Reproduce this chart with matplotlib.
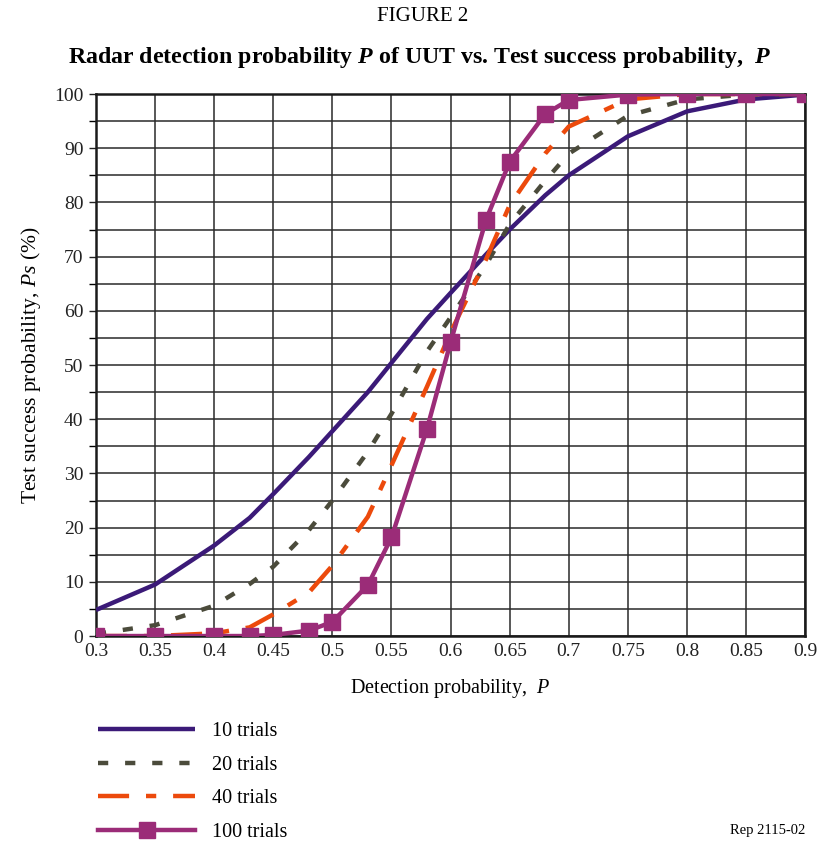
import numpy as np
import matplotlib.pyplot as plt

plt.rcParams['font.family'] = ['Liberation Serif', 'DejaVu Serif']
plt.rcParams['mathtext.fontset'] = 'custom'
plt.rcParams['mathtext.rm'] = 'Liberation Serif'
plt.rcParams['mathtext.it'] = 'Liberation Serif:italic'
plt.rcParams['mathtext.bf'] = 'Liberation Serif:bold'
plt.rcParams['mathtext.bfit'] = 'Liberation Serif:bold:italic'

# detection probability points
P = [0.3, 0.35, 0.4, 0.43, 0.45, 0.48, 0.5, 0.53, 0.55, 0.58,
     0.6, 0.63, 0.65, 0.68, 0.7, 0.75, 0.8, 0.85, 0.9]

# test success probability (%)
ps_10 = [4.8, 9.5, 16.7, 21.8, 26.2, 33.0, 37.8, 45.0, 50.4, 58.5,
         63.3, 70.4, 75.0, 81.3, 85.0, 92.2, 96.8, 99.0, 99.9]
ps_20 = [0.4, 2.0, 5.6, 9.6, 12.8, 19.5, 25.0, 34.0, 41.0, 52.5,
         58.8, 68.5, 76.0, 84.0, 89.0, 96.0, 99.0, 99.9, 100.0]
ps_40 = [0.0, 0.0, 0.5, 1.6, 4.0, 8.0, 13.0, 22.0, 31.5, 46.0,
         56.0, 69.5, 79.5, 89.0, 94.0, 99.0, 100.0, 100.0, 100.0]
ps_100 = [0.0, 0.0, 0.0, 0.0, 0.2, 1.0, 2.6, 9.4, 18.2, 38.2,
          54.2, 76.8, 87.5, 96.3, 98.9, 99.9, 100.0, 100.0, 100.0]

labels = ['10 trials', '20 trials', '40 trials', '100 trials']

fig = plt.figure(figsize=(8.2, 8.44), dpi=100)
ax = fig.add_axes([0.117, 0.2464, 0.865, 0.6422])

lw = 3.2
ax.plot(P, ps_10, color='#3b1a78', lw=lw, solid_capstyle='butt', label=labels[0], zorder=3)
ax.plot(P, ps_20, color='#4b4b3b', lw=lw, dashes=(2.3, 3.8), label=labels[1], zorder=4)
ax.plot(P, ps_40, color='#ec4a0c', lw=lw, dashes=(7.0, 3.8, 2.3, 3.8), label=labels[2], zorder=5)
ax.plot(P, ps_100, color='#9b2c78', lw=lw, marker='s', markersize=11, label=labels[3], zorder=6)

ax.set_xlim(0.3, 0.9)
ax.set_ylim(0, 100)
ax.set_xticks(np.arange(0.3, 0.901, 0.05))
ax.set_xticklabels(['0.3', '0.35', '0.4', '0.45', '0.5', '0.55', '0.6',
                    '0.65', '0.7', '0.75', '0.8', '0.85', '0.9'])
ax.set_yticks(np.arange(0, 101, 10))
ax.set_yticks(np.arange(5, 100, 10), minor=True)
ax.grid(True, which='both', color='#2a2a2a', lw=1.1)
ax.tick_params(axis='both', labelsize=14, colors='#222222')
ax.tick_params(axis='x', length=0, pad=5)
ax.tick_params(axis='y', which='both', length=5, width=1, pad=4)
for s in ax.spines.values():
    s.set_linewidth(1.8)
    s.set_color('#1a1a1a')

ax.set_xlabel('Detection probability,  $P$', fontsize=14.5, labelpad=12)
ax.set_ylabel('Test success probability, $Ps$ (%)', fontsize=15.5, labelpad=8)

fig.text(0.516, 0.98, 'FIGURE 2', ha='center', va='center', fontsize=15)
fig.text(0.511, 0.932, r'Radar detection probability $\mathbfit{P}$ of UUT vs. Test success probability,  $\mathbfit{P}$',
         ha='center', va='center', fontsize=17.2, fontweight='bold')

fig.legend(loc='upper left', bbox_to_anchor=(0.098, 0.166), frameon=False,
           fontsize=14.5, handlelength=4.8, handletextpad=0.85, labelspacing=0.72,
           numpoints=1)

fig.text(0.982, 0.008, 'Rep 2115-02', ha='right', va='bottom', fontsize=10.5)

fig.savefig('out.png', dpi=100)
